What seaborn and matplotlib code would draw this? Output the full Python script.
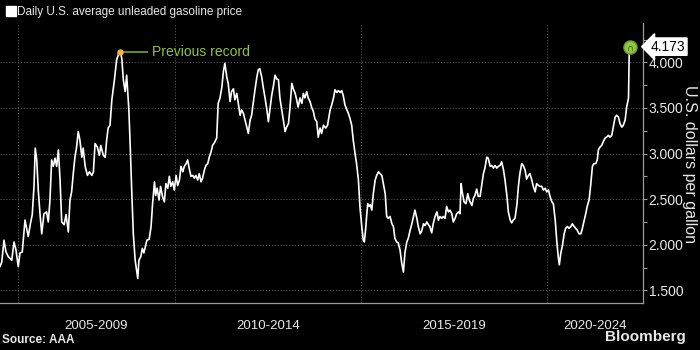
import numpy as np
import pandas as pd
import matplotlib
matplotlib.use("Agg")
import matplotlib.pyplot as plt
import matplotlib.transforms as mtransforms
from matplotlib.lines import Line2D
from matplotlib.ticker import FixedLocator, FuncFormatter
import seaborn as sns

# Daily U.S. average unleaded gasoline price (USD per gallon), AAA
dates = [
    2004.28, 2004.35, 2004.44, 2004.52, 2004.61, 2004.75, 2004.84, 2004.92, 2005.01, 2005.08,
    2005.17, 2005.28, 2005.41, 2005.51, 2005.57, 2005.64, 2005.69, 2005.75, 2005.81, 2005.88,
    2005.95, 2006.04, 2006.15, 2006.22, 2006.29, 2006.36, 2006.43, 2006.50, 2006.57, 2006.64,
    2006.71, 2006.78, 2006.88, 2006.96, 2007.04, 2007.09, 2007.14, 2007.19, 2007.24, 2007.29,
    2007.34, 2007.39, 2007.45, 2007.49, 2007.55, 2007.62, 2007.68, 2007.75, 2007.80, 2007.85,
    2007.92, 2007.98, 2008.02, 2008.09, 2008.14, 2008.18, 2008.22, 2008.27, 2008.32, 2008.39,
    2008.45, 2008.51, 2008.55, 2008.59, 2008.63, 2008.68, 2008.72, 2008.75, 2008.78, 2008.82,
    2008.86, 2008.90, 2008.95, 2008.99, 2009.02, 2009.05, 2009.10, 2009.14, 2009.18, 2009.23,
    2009.26, 2009.32, 2009.37, 2009.41, 2009.46, 2009.49, 2009.53, 2009.58, 2009.62, 2009.67,
    2009.72, 2009.76, 2009.81, 2009.85, 2009.89, 2009.94, 2009.98, 2010.03, 2010.07, 2010.12,
    2010.16, 2010.21, 2010.25, 2010.30, 2010.34, 2010.38, 2010.43, 2010.48, 2010.52, 2010.56,
    2010.61, 2010.65, 2010.70, 2010.74, 2010.79, 2010.83, 2010.88, 2010.92, 2010.97, 2011.01,
    2011.06, 2011.12, 2011.16, 2011.21, 2011.26, 2011.30, 2011.34, 2011.39, 2011.43, 2011.48,
    2011.52, 2011.57, 2011.61, 2011.66, 2011.70, 2011.75, 2011.79, 2011.84, 2011.88, 2011.93,
    2011.97, 2012.02, 2012.06, 2012.10, 2012.15, 2012.20, 2012.24, 2012.28, 2012.33, 2012.37,
    2012.42, 2012.47, 2012.51, 2012.55, 2012.60, 2012.64, 2012.69, 2012.73, 2012.78, 2012.82,
    2012.87, 2012.91, 2012.96, 2013.00, 2013.05, 2013.09, 2013.14, 2013.18, 2013.23, 2013.27,
    2013.31, 2013.36, 2013.41, 2013.45, 2013.49, 2013.54, 2013.58, 2013.63, 2013.67, 2013.72,
    2013.76, 2013.81, 2013.85, 2013.90, 2013.94, 2013.99, 2014.05, 2014.10, 2014.17, 2014.21,
    2014.26, 2014.30, 2014.35, 2014.39, 2014.44, 2014.48, 2014.52, 2014.57, 2014.62, 2014.66,
    2014.70, 2014.75, 2014.79, 2014.84, 2014.88, 2014.93, 2014.97, 2015.02, 2015.06, 2015.09,
    2015.13, 2015.15, 2015.18, 2015.22, 2015.25, 2015.29, 2015.33, 2015.38, 2015.42, 2015.47,
    2015.51, 2015.56, 2015.60, 2015.65, 2015.69, 2015.73, 2015.78, 2015.83, 2015.87, 2015.91,
    2015.96, 2016.00, 2016.05, 2016.09, 2016.14, 2016.18, 2016.23, 2016.27, 2016.32, 2016.36,
    2016.41, 2016.45, 2016.50, 2016.54, 2016.59, 2016.63, 2016.68, 2016.72, 2016.77, 2016.81,
    2016.85, 2016.90, 2016.94, 2016.99, 2017.04, 2017.08, 2017.12, 2017.17, 2017.21, 2017.26,
    2017.30, 2017.35, 2017.39, 2017.44, 2017.48, 2017.53, 2017.57, 2017.62, 2017.66, 2017.69,
    2017.72, 2017.77, 2017.82, 2017.87, 2017.91, 2017.98, 2018.02, 2018.06, 2018.11, 2018.15,
    2018.20, 2018.24, 2018.29, 2018.33, 2018.38, 2018.42, 2018.47, 2018.51, 2018.56, 2018.60,
    2018.65, 2018.69, 2018.74, 2018.78, 2018.83, 2018.87, 2018.92, 2018.96, 2019.01, 2019.05,
    2019.09, 2019.14, 2019.19, 2019.23, 2019.27, 2019.32, 2019.36, 2019.41, 2019.45, 2019.50,
    2019.54, 2019.59, 2019.63, 2019.68, 2019.72, 2019.77, 2019.81, 2019.86, 2019.90, 2019.95,
    2019.99, 2020.04, 2020.08, 2020.13, 2020.17, 2020.22, 2020.26, 2020.30, 2020.33, 2020.37,
    2020.41, 2020.46, 2020.50, 2020.55, 2020.59, 2020.64, 2020.68, 2020.73, 2020.77, 2020.81,
    2020.86, 2020.91, 2020.95, 2020.99, 2021.04, 2021.08, 2021.13, 2021.17, 2021.22, 2021.26,
    2021.31, 2021.35, 2021.38, 2021.42, 2021.47, 2021.51, 2021.56, 2021.60, 2021.65, 2021.69,
    2021.74, 2021.78, 2021.83, 2021.87, 2021.92, 2021.96, 2022.01, 2022.05, 2022.10, 2022.14,
    2022.19, 2022.20, 2022.21, 2022.22,
]
prices = [
    1.76, 1.81, 2.05, 1.92, 1.87, 1.83, 2.03, 1.94, 1.76, 1.91,
    1.92, 2.27, 2.09, 2.25, 2.33, 2.64, 3.06, 2.93, 2.60, 2.34,
    2.12, 2.34, 2.36, 2.25, 2.49, 2.93, 2.86, 2.95, 2.86, 3.04,
    2.71, 2.25, 2.22, 2.33, 2.14, 2.49, 2.58, 2.78, 2.96, 3.07,
    3.24, 3.15, 2.96, 3.06, 2.86, 2.76, 2.80, 2.76, 2.80, 3.11,
    3.07, 2.98, 3.09, 2.98, 2.96, 3.15, 3.28, 3.31, 3.59, 3.81,
    4.03, 4.10, 4.114, 4.04, 3.81, 3.68, 3.86, 3.66, 3.48, 3.04,
    2.56, 2.12, 1.83, 1.72, 1.63, 1.83, 1.87, 1.96, 1.91, 2.00,
    2.05, 2.06, 2.20, 2.45, 2.69, 2.54, 2.62, 2.49, 2.64, 2.53,
    2.47, 2.67, 2.62, 2.75, 2.64, 2.69, 2.60, 2.76, 2.65, 2.71,
    2.86, 2.80, 2.86, 2.89, 2.93, 2.84, 2.75, 2.76, 2.73, 2.76,
    2.71, 2.78, 2.69, 2.73, 2.82, 2.87, 2.89, 2.96, 3.02, 3.09,
    3.12, 3.17, 3.55, 3.61, 3.73, 3.90, 3.99, 3.84, 3.77, 3.57,
    3.68, 3.71, 3.59, 3.66, 3.55, 3.42, 3.48, 3.44, 3.37, 3.29,
    3.22, 3.37, 3.42, 3.55, 3.70, 3.84, 3.92, 3.93, 3.84, 3.73,
    3.61, 3.48, 3.35, 3.48, 3.64, 3.73, 3.86, 3.82, 3.81, 3.61,
    3.48, 3.37, 3.24, 3.29, 3.33, 3.50, 3.77, 3.71, 3.66, 3.59,
    3.51, 3.61, 3.55, 3.66, 3.61, 3.68, 3.61, 3.57, 3.51, 3.46,
    3.38, 3.35, 3.18, 3.28, 3.22, 3.31, 3.28, 3.31, 3.48, 3.53,
    3.61, 3.70, 3.67, 3.69, 3.67, 3.69, 3.64, 3.53, 3.48, 3.44,
    3.39, 3.31, 3.15, 3.00, 2.89, 2.71, 2.42, 2.20, 2.05, 2.03,
    2.20, 2.31, 2.45, 2.42, 2.44, 2.38, 2.56, 2.71, 2.76, 2.80,
    2.78, 2.76, 2.67, 2.56, 2.31, 2.29, 2.31, 2.23, 2.20, 2.07,
    2.03, 2.02, 1.94, 1.81, 1.70, 1.91, 2.03, 2.07, 2.16, 2.22,
    2.31, 2.38, 2.29, 2.20, 2.12, 2.15, 2.23, 2.21, 2.25, 2.22,
    2.20, 2.13, 2.23, 2.31, 2.36, 2.27, 2.31, 2.29, 2.31, 2.29,
    2.42, 2.36, 2.38, 2.34, 2.25, 2.29, 2.34, 2.36, 2.34, 2.67,
    2.58, 2.47, 2.45, 2.56, 2.49, 2.43, 2.51, 2.54, 2.61, 2.53,
    2.53, 2.64, 2.78, 2.84, 2.96, 2.95, 2.86, 2.87, 2.84, 2.87,
    2.84, 2.86, 2.87, 2.91, 2.82, 2.71, 2.54, 2.36, 2.27, 2.24,
    2.27, 2.29, 2.44, 2.64, 2.78, 2.89, 2.87, 2.82, 2.72, 2.76,
    2.78, 2.71, 2.64, 2.58, 2.67, 2.65, 2.64, 2.64, 2.60, 2.62,
    2.58, 2.60, 2.53, 2.47, 2.45, 2.27, 2.05, 1.87, 1.78, 1.91,
    1.98, 2.12, 2.18, 2.20, 2.18, 2.20, 2.23, 2.20, 2.18, 2.16,
    2.12, 2.12, 2.18, 2.25, 2.34, 2.42, 2.49, 2.64, 2.86, 2.89,
    2.89, 2.93, 3.04, 3.07, 3.09, 3.13, 3.17, 3.18, 3.20, 3.18,
    3.20, 3.29, 3.40, 3.42, 3.40, 3.33, 3.29, 3.31, 3.37, 3.51,
    3.61, 3.92, 4.15, 4.173,
]

record_date, record_price = 2008.55, 4.114
period_starts = [2005, 2010, 2015, 2020]
period_labels = ["2005-2009", "2010-2014", "2015-2019", "2020-2024"]
price_ticks = [1.5, 2.0, 2.5, 3.0, 3.5, 4.0]

# The time axis is spaced by observation count, so thinly sampled early years are narrower.
axis_years = list(range(2004, 2024))
year_widths = [25, 25, 24, 33, 37, 38] + [37.2] * 13
axis_pos = np.concatenate([[0.0], np.cumsum(year_widths)])


def to_pos(x):
    return np.interp(x, axis_years, axis_pos)


def to_year(p):
    return np.interp(p, axis_pos, axis_years)


df = pd.DataFrame({"date": dates, "price": prices})

BG = "black"
GRID = "#555555"
SPINE = "#9a9a9a"
TEXT = "#e8e8e8"
GREEN = "#8dc63f"

sns.set_style("dark", {"axes.facecolor": BG, "figure.facecolor": BG})
plt.rcParams["font.family"] = ["Liberation Sans", "DejaVu Sans"]

fig = plt.figure(figsize=(7, 3.5), dpi=100, facecolor=BG)
ax = fig.add_axes([0.0, 0.1343, 0.9186, 0.7997])
ax.set_facecolor(BG)

ax.set_xscale("function", functions=(to_pos, to_year))
sns.lineplot(data=df, x="date", y="price", ax=ax, color="white", lw=1.2,
             legend=False, zorder=3)

ax.set_xlim(2004.28, 2022.58)
ax.set_ylim(1.361, 4.431)
ax.set_xlabel("")
ax.set_ylabel("")

# spines
for s in ("left", "top"):
    ax.spines[s].set_visible(False)
for s in ("right", "bottom"):
    ax.spines[s].set_visible(True)
    ax.spines[s].set_color(SPINE)
    ax.spines[s].set_linewidth(0.9)

# x ticks: long separators at period starts, short marks every year
ax.xaxis.set_major_locator(FixedLocator(period_starts))
ax.xaxis.set_minor_locator(FixedLocator(list(range(2005, 2023))))
ax.tick_params(axis="x", which="major", direction="out", length=26, width=0.8,
               color=SPINE, labelbottom=False)
ax.tick_params(axis="x", which="minor", direction="out", length=3, width=0.8,
               color=SPINE)

# y ticks on the right
ax.yaxis.tick_right()
ax.yaxis.set_major_locator(FixedLocator(price_ticks))
ax.yaxis.set_minor_locator(FixedLocator(np.arange(1.5, 4.3, 0.25)))
ax.yaxis.set_major_formatter(FuncFormatter(lambda v, _: f"{v:.3f}"))
ax.tick_params(axis="y", which="both", direction="out", length=3, width=0.8,
               color=SPINE, labelcolor=TEXT, labelsize=10, pad=1)

# dotted grid
ax.grid(axis="y", which="major", color=GRID, ls=(0, (1.2, 1.8)), lw=0.7)
ax.grid(axis="x", which="major", color=GRID, ls=(0, (1.2, 1.8)), lw=0.7)
ax.grid(axis="x", which="minor", visible=False)

# period labels centred between separators
edges = period_starts + [ax.get_xlim()[1]]
lab_tr = mtransforms.blended_transform_factory(ax.transData, fig.transFigure)
for a, b, lab in zip(edges[:-1], edges[1:], period_labels):
    mid = to_year((to_pos(a) + to_pos(b)) / 2)
    ax.text(mid, 1 - 326 / 350, lab, transform=lab_tr, ha="center", va="center",
            color=TEXT, fontsize=9.5, clip_on=False)

# previous record annotation
ax.annotate("Previous record", xy=(record_date, record_price), xytext=(23, 0),
            textcoords="offset points", ha="left", va="center", color=GREEN,
            fontsize=10,
            arrowprops=dict(arrowstyle="-", color=GREEN, lw=1, shrinkA=1, shrinkB=0),
            zorder=5)
ax.scatter([record_date], [record_price], s=22, color="#f0b240", zorder=6,
           linewidths=0)

# latest value marker and tag
last_date, last_price = dates[-1], prices[-1]
ax.scatter([last_date], [last_price], s=90, color=GREEN, edgecolors="#6a9a2a",
           linewidths=1, zorder=6)
ax.text(last_date, last_price - 0.01, "\u2229", ha="center", va="center",
        color="#2a3a10", fontsize=7, fontweight="bold", zorder=7)
tag_tr = mtransforms.blended_transform_factory(ax.transAxes, ax.transData)
ax.text(1.012, last_price, f"{last_price:.3f}", transform=tag_tr, ha="left",
        va="center", color="black", fontsize=10, clip_on=False,
        bbox=dict(boxstyle="larrow,pad=0.12", fc="white", ec="white"))

# axis title
fig.text(690 / 700, 1 - 164 / 350, "U.S. dollars per gallon", rotation=270,
         ha="center", va="center", color=TEXT, fontsize=11.5)

# series key
key = Line2D([], [], marker="s", ls="", color="white", markersize=6.5)
fig.legend([key], ["Daily U.S. average unleaded gasoline price"], loc="upper left",
           bbox_to_anchor=(-0.005, 1.012), frameon=False, handlelength=0.6,
           handletextpad=0.25, labelcolor=TEXT, fontsize=8.5)

# footer
fig.text(2 / 700, 1 - 340 / 350, "Source: AAA", ha="left", va="center",
         color=TEXT, fontsize=8.5, fontweight="bold")
fig.text(686 / 700, 1 - 337 / 350, "Bloomberg", ha="right", va="center",
         color=TEXT, fontsize=11, fontweight="bold")

fig.savefig("out.png", dpi=100, facecolor=BG)
